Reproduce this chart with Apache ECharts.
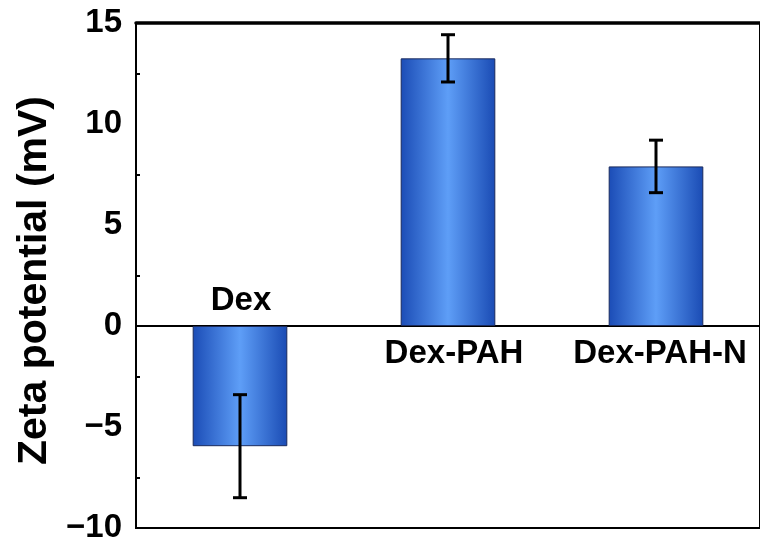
<!DOCTYPE html>
<html>
<head>
<meta charset="utf-8">
<script src="https://cdn.jsdelivr.net/npm/echarts@6/dist/echarts.min.js"></script>
<style>
  html, body { margin: 0; padding: 0; background: #fff; }
  #main { width: 760px; height: 549px; }
</style>
</head>
<body>
<div id="main"></div>
<script>
var categories = ['Dex', 'Dex-PAH', 'Dex-PAH-N'];
var zeta = [-5.95, 13.25, 7.9];
var errors = [2.55, 1.17, 1.3];
var labelPos = ['top', 'bottom', 'bottom'];
var labelShift = [1, 6, 4];

var font = 'Liberation Sans, Arial, sans-serif';

var barColor = new echarts.graphic.LinearGradient(0, 0, 1, 0, [
  { offset: 0, color: '#1b4cb6' },
  { offset: 0.5, color: '#5e9ef7' },
  { offset: 1, color: '#1a4bb4' }
]);

var errData = zeta.map(function (v, i) {
  return [i, v - errors[i], v + errors[i]];
});

var option = {
  animation: false,
  grid: {
    left: 136,
    top: 23,
    width: 626,
    height: 505,
    show: true,
    borderColor: '#000',
    borderWidth: 2
  },
  xAxis: [
    {
      type: 'category',
      data: categories,
      axisLine: { onZero: true, lineStyle: { color: '#000', width: 2 } },
      axisTick: { show: false },
      axisLabel: { show: false }
    },
    {
      // thicker top frame line
      type: 'category',
      data: categories,
      position: 'top',
      axisLine: { onZero: false, lineStyle: { color: '#000', width: 3.5 } },
      axisTick: { show: false },
      axisLabel: { show: false }
    }
  ],
  yAxis: {
    type: 'value',
    min: -10,
    max: 15,
    interval: 5,
    name: 'Zeta potential (mV)',
    nameLocation: 'middle',
    nameGap: 81,
    nameTextStyle: {
      fontFamily: font, fontWeight: 'bold', fontSize: 41, color: '#000',
      padding: [0, 10, 0, 0]
    },
    axisLine: { show: true, lineStyle: { color: '#000', width: 2 } },
    axisTick: { inside: true, length: 8, lineStyle: { color: '#000', width: 2 } },
    minorTick: { show: true, splitNumber: 2, length: 4, lineStyle: { color: '#000', width: 2 } },
    splitLine: { show: false },
    axisLabel: {
      fontFamily: font,
      fontWeight: 'bold',
      fontSize: 33,
      color: '#000',
      margin: 14,
      formatter: function (v) { return String(v).replace('-', '\u2212'); }
    }
  },
  series: [
    {
      type: 'bar',
      data: zeta,
      barWidth: '45.5%',
      itemStyle: { color: barColor, borderColor: '#1a2a5c', borderWidth: 1 }
    },
    {
      type: 'custom',
      data: errData,
      z: 5,
      renderItem: function (params, api) {
        var x = api.value(0);
        var lo = api.coord([x, api.value(1)]);
        var hi = api.coord([x, api.value(2)]);
        var cap = 7;
        var style = { stroke: '#000', lineWidth: 3 };
        return {
          type: 'group',
          children: [
            { type: 'line', shape: { x1: lo[0], y1: lo[1], x2: hi[0], y2: hi[1] }, style: style },
            { type: 'line', shape: { x1: lo[0] - cap, y1: lo[1], x2: lo[0] + cap, y2: lo[1] }, style: style },
            { type: 'line', shape: { x1: hi[0] - cap, y1: hi[1], x2: hi[0] + cap, y2: hi[1] }, style: style }
          ]
        };
      }
    },
    {
      type: 'scatter',
      symbolSize: 0,
      silent: true,
      itemStyle: { opacity: 1 },
      data: categories.map(function (c, i) {
        return {
          value: [i, 0],
          label: {
            show: true,
            position: labelPos[i],
            distance: labelPos[i] === 'top' ? 9 : 11,
            offset: [labelShift[i], 0],
            formatter: c,
            fontFamily: font,
            fontWeight: 'bold',
            fontSize: 33,
            color: '#000'
          }
        };
      })
    }
  ]
};

echarts.init(document.getElementById('main')).setOption(option);
</script>
</body>
</html>
